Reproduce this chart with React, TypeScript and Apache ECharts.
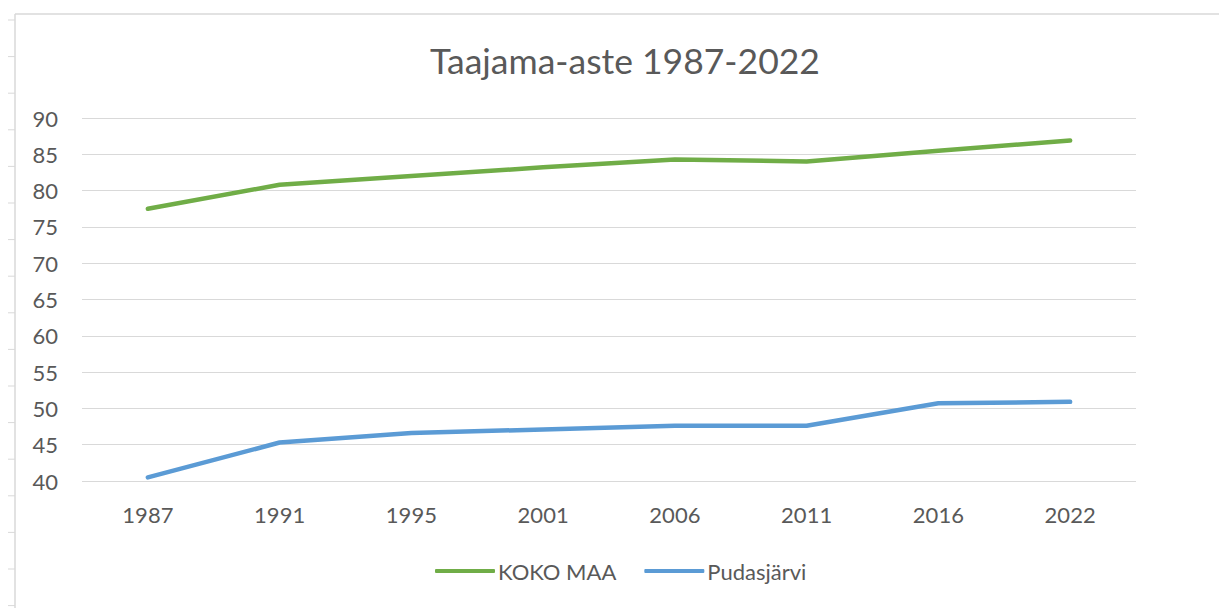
import React, { useEffect, useRef } from "react";
import * as echarts from "echarts";

const years = ["1987", "1991", "1995", "2001", "2006", "2011", "2016", "2022"];
const kokoMaa = [77.5, 80.8, 82.0, 83.2, 84.3, 84.0, 85.5, 86.9];
const pudasjarvi = [40.5, 45.3, 46.6, 47.1, 47.6, 47.6, 50.7, 50.9];
const titleText = "Taajama-aste 1987-2022";

const FONT = "Lato, 'Open Sans', sans-serif";
const TEXT = "#595959";

export default function App() {
  const ref = useRef<HTMLDivElement>(null);
  useEffect(() => {
    if (!ref.current) return;
    const chart = echarts.init(ref.current, null, { renderer: "svg" });
    const ticks: any[] = [];
    for (let k = 0; k < 17; k++) {
      const y = 20 + 36.6 * k;
      ticks.push({
        type: "line",
        shape: { x1: 8, y1: y, x2: 15, y2: y },
        style: { stroke: "#d9d9d9", lineWidth: 1 },
        silent: true,
      });
    }
    chart.setOption({
      animation: false,
      backgroundColor: "#ffffff",
      textStyle: { fontFamily: FONT },
      title: {
        text: titleText,
        left: 620,
        textAlign: "center",
        top: 37,
        textStyle: { fontFamily: FONT, fontSize: 35.5, fontWeight: "normal", color: TEXT },
      },
      legend: {
        top: 555,
        left: 430,
        itemWidth: 60,
        itemHeight: 4,
        itemGap: 28,
        icon: "roundRect",
        textStyle: { fontFamily: FONT, fontSize: 22, color: TEXT, padding: [0, 0, 0, -2] },
        data: ["KOKO MAA", "Pudasjärvi"],
      },
      grid: { left: 82, right: 83, top: 118, bottom: 127, containLabel: false },
      xAxis: {
        type: "category",
        data: years,
        boundaryGap: true,
        axisLine: { show: false },
        axisTick: { show: false },
        axisLabel: { color: TEXT, fontSize: 22, fontFamily: FONT, margin: 22 },
      },
      yAxis: {
        type: "value",
        min: 40,
        max: 90,
        interval: 5,
        axisLine: { show: false },
        axisTick: { show: false },
        axisLabel: { color: TEXT, fontSize: 22, fontFamily: FONT, margin: 24 },
        splitLine: { lineStyle: { color: "#d9d9d9", width: 1 } },
      },
      series: [
        {
          name: "KOKO MAA",
          type: "line",
          data: kokoMaa,
          symbol: "none",
          lineStyle: { color: "#70AD47", width: 4.5, cap: "round", join: "round" },
          itemStyle: { color: "#70AD47" },
        },
        {
          name: "Pudasjärvi",
          type: "line",
          data: pudasjarvi,
          symbol: "none",
          lineStyle: { color: "#5B9BD5", width: 4.5, cap: "round", join: "round" },
          itemStyle: { color: "#5B9BD5" },
        },
      ],
      graphic: [
        {
          type: "line",
          shape: { x1: 15, y1: 14, x2: 1219, y2: 14 },
          style: { stroke: "#d9d9d9", lineWidth: 1.5 },
          silent: true,
        },
        {
          type: "line",
          shape: { x1: 15, y1: 14, x2: 15, y2: 608 },
          style: { stroke: "#d9d9d9", lineWidth: 1.5 },
          silent: true,
        },
        ...ticks,
      ],
    });
    return () => chart.dispose();
  }, []);
  return (
    <div
      ref={ref}
      style={{ position: "fixed", left: 0, top: 0, width: 1219, height: 608 }}
    />
  );
}
